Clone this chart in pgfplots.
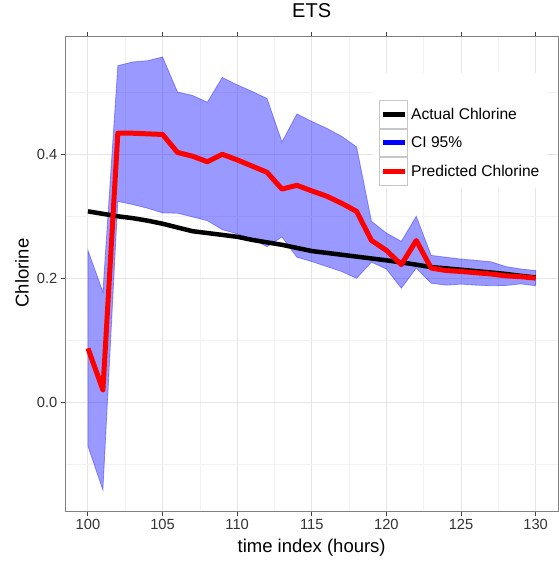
\documentclass[border=0pt]{standalone}
\usepackage{fontspec}
\setmainfont{Liberation Sans}
\usepackage{pgfplots}
\usepackage{pgfplotstable}
\pgfplotsset{compat=1.18}

\pgfplotstableread{
x act pred lo hi
100 0.308 0.087 -0.071 0.245
101 0.304 0.020 -0.1415 0.178
102 0.300 0.434 0.324 0.543
103 0.297 0.434 0.319 0.549
104 0.293 0.433 0.313 0.551
105 0.288 0.432 0.3055 0.557
106 0.282 0.403 0.305 0.5005
107 0.276 0.397 0.299 0.495
108 0.273 0.388 0.293 0.484
109 0.270 0.400 0.2785 0.524
110 0.267 0.391 0.2716 0.512
111 0.262 0.381 0.2635 0.5015
112 0.258 0.371 0.251 0.490
113 0.254 0.344 0.2667 0.420
114 0.249 0.350 0.234 0.465
115 0.244 0.341 0.227 0.453
116 0.241 0.3325 0.219 0.442
117 0.238 0.321 0.211 0.429
118 0.235 0.308 0.200 0.412
119 0.232 0.261 0.226 0.292
120 0.229 0.245 0.215 0.273
121 0.2256 0.222 0.184 0.2596
122 0.222 0.261 0.2165 0.300
123 0.218 0.2165 0.192 0.237
124 0.216 0.2126 0.189 0.234
125 0.2138 0.211 0.1906 0.231
126 0.2116 0.209 0.189 0.229
127 0.2094 0.207 0.188 0.2267
128 0.207 0.204 0.1884 0.219
129 0.204 0.2026 0.191 0.215
130 0.2013 0.2003 0.188 0.2126
}\data

% CI band as a closed polygon: upper bound forward, lower bound backward
\pgfplotstableread{
x y
100 0.245
101 0.178
102 0.543
103 0.549
104 0.551
105 0.557
106 0.5005
107 0.495
108 0.484
109 0.524
110 0.512
111 0.5015
112 0.490
113 0.420
114 0.465
115 0.453
116 0.442
117 0.429
118 0.412
119 0.292
120 0.273
121 0.2596
122 0.300
123 0.237
124 0.234
125 0.231
126 0.229
127 0.2267
128 0.219
129 0.215
130 0.2126
130 0.188
129 0.191
128 0.1884
127 0.188
126 0.189
125 0.1906
124 0.189
123 0.192
122 0.2165
121 0.184
120 0.215
119 0.226
118 0.200
117 0.211
116 0.219
115 0.227
114 0.234
113 0.2667
112 0.251
111 0.2635
110 0.2716
109 0.2785
108 0.293
107 0.299
106 0.305
105 0.3055
104 0.313
103 0.319
102 0.324
101 -0.1415
100 -0.071
}\band

\definecolor{ribbon}{RGB}{0,0,255}

\begin{document}
\begin{tikzpicture}
\useasboundingbox (-65.3bp,-51bp) rectangle (493.7bp,511bp);
\begin{axis}[
  scale only axis,
  width=492.7bp, height=474.3bp,
  xmin=98.48, xmax=131.5,
  ymin=-0.1753, ymax=0.5897,
  xtick={100,105,...,130},
  ytick={0,0.2,0.4},
  minor xtick={102.5,107.5,...,127.5},
  minor ytick={-0.1,0.1,0.3,0.5},
  grid=both,
  major grid style={black!10, line width=1bp},
  minor grid style={black!5, line width=0.6bp},
  tick align=outside,
  major tick length=4.5bp,
  minor tick length=0pt,
  tick style={black!75, line width=1bp},
  axis line style={black!50, line width=1bp},
  /pgf/number format/assume math mode=true,
  yticklabel style={/pgf/number format/.cd, fixed, fixed zerofill, precision=1},
  ticklabel style={font=\fontsize{14.7bp}{17bp}\selectfont, text=black!80},
  xticklabel style={/pgf/number format/1000 sep={}},
  xlabel={time index (hours)},
  ylabel={Chlorine},
  xlabel style={font=\fontsize{18.5bp}{22bp}\selectfont, at={(axis description cs:0.5,-0.078)}, anchor=center, inner sep=0pt},
  ylabel style={font=\fontsize{18.5bp}{22bp}\selectfont, at={(axis description cs:-0.0879,0.5018)}, anchor=center, inner sep=0pt, rotate=0},
  title={ETS},
  title style={font=\fontsize{20bp}{24bp}\selectfont, at={(axis description cs:0.5,1.0415)}, anchor=center, inner sep=0pt},
  legend style={at={(axis description cs:0.6373,0.8665)}, anchor=north west,
    draw=none, fill=none, inner sep=0pt, row sep=0pt, column sep=3bp,
    font=\fontsize{15.6bp}{18bp}\selectfont,
    nodes={inner sep=0pt}},
  legend cell align=left,
]
\addplot[fill=ribbon, fill opacity=0.4, draw=ribbon, draw opacity=0.35, line width=0.8bp, forget plot] table[x=x, y=y] {\band} -- cycle;

\addplot[black, line width=4.5bp, line join=round, forget plot] table[x=x, y=act] {\data};
\addplot[red, line width=5bp, line join=round, forget plot] table[x=x, y=pred] {\data};

\fill[white] (axis description cs:0.6245,0.681) rectangle (axis description cs:0.9777,0.9235);

\addlegendimage{legend image code/.code={
  \draw[black!22, line width=0.9bp, fill=white] (0bp,-13.8bp) rectangle (27.7bp,13.8bp);
  \draw[black, line width=5bp] (2.7bp,0bp) -- (25bp,0bp);}}
\addlegendentry{Actual Chlorine}
\addlegendimage{legend image code/.code={
  \draw[black!22, line width=0.9bp, fill=white] (0bp,-13.8bp) rectangle (27.7bp,13.8bp);
  \draw[blue, line width=5bp] (2.7bp,0bp) -- (25bp,0bp);}}
\addlegendentry{CI 95\%}
\addlegendimage{legend image code/.code={
  \draw[black!22, line width=0.9bp, fill=white] (0bp,-13.8bp) rectangle (27.7bp,13.8bp);
  \draw[red, line width=5bp] (2.7bp,0bp) -- (25bp,0bp);}}
\addlegendentry{Predicted Chlorine}
\end{axis}
\end{tikzpicture}
\end{document}
